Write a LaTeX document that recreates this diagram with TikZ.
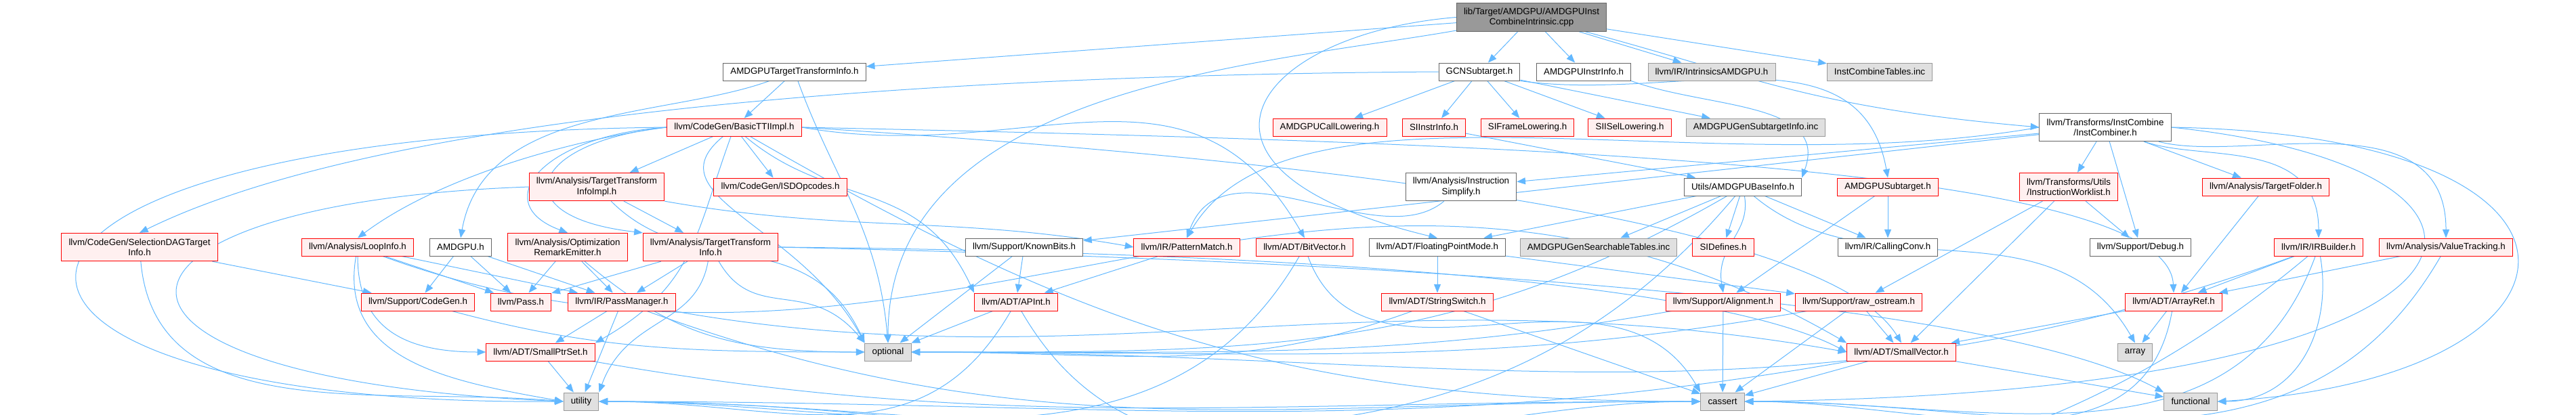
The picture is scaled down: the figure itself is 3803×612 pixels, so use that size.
\documentclass[tikz,border=0pt]{standalone}
\usepackage{fontspec}
\setmainfont{Liberation Sans}
\usetikzlibrary{arrows.meta,backgrounds}
\definecolor{depline}{HTML}{63B8FF}
\definecolor{hdrline}{HTML}{666666}
\definecolor{truncline}{HTML}{FF0000}
\definecolor{truncfill}{HTML}{FFF0F0}
\definecolor{sysline}{HTML}{999999}
\definecolor{sysfill}{HTML}{E0E0E0}
\definecolor{rootfill}{HTML}{999999}

\begin{document}
\begin{tikzpicture}[x=0.75pt,y=0.75pt,
  hdr/.style={draw=hdrline,fill=white,line width=0.75pt,inner xsep=8pt,inner ysep=0pt,
    minimum height=19.5pt,align=center,font=\fontsize{10}{11.5}\selectfont},
  trunc/.style={hdr,draw=truncline,fill=truncfill},
  sys/.style={hdr,draw=sysline,fill=sysfill},
  rootbox/.style={hdr,fill=rootfill},
  twoline/.style={minimum height=31pt},
  dep/.style={depline,line width=0.75pt,-{Triangle[length=9.5pt,width=7.5pt]}}]
  \useasboundingbox (0,0) rectangle (3803,-612);

  % Source file
  \node[rootbox,twoline] (root) at (2261,-25.5) {lib/Target/AMDGPU/AMDGPUInst\\CombineIntrinsic.cpp};

  % First level includes
  \node[hdr] (ttiamd) at (1173,-106) {AMDGPUTargetTransformInfo.h};
  \node[hdr] (gcn) at (2184,-106) {GCNSubtarget.h};
  \node[hdr] (instrinfo) at (2338,-106) {AMDGPUInstrInfo.h};
  \node[sys] (intrin) at (2527,-106) {llvm/IR/IntrinsicsAMDGPU.h};
  \node[sys] (tables) at (2775,-106) {InstCombineTables.inc};

  \node[trunc] (basictti) at (1084,-188) {llvm/CodeGen/BasicTTIImpl.h};
  \node[trunc] (calllow) at (1963,-188) {AMDGPUCallLowering.h};
  \node[trunc] (siinstr) at (2117,-188) {SIInstrInfo.h};
  \node[trunc] (siframe) at (2255,-188) {SIFrameLowering.h};
  \node[trunc] (siisel) at (2406,-188) {SIISelLowering.h};
  \node[sys] (gensub) at (2592,-188) {AMDGPUGenSubtargetInfo.inc};
  \node[hdr,twoline] (instcomb) at (3108,-188) {llvm/Transforms/InstCombine\\/InstCombiner.h};

  \node[trunc,twoline] (ttiimpl) at (881,-276) {llvm/Analysis/TargetTransform\\InfoImpl.h};
  \node[trunc] (isd) at (1152,-276) {llvm/CodeGen/ISDOpcodes.h};
  \node[hdr,twoline] (instsimp) at (2157,-276) {llvm/Analysis/Instruction\\Simplify.h};
  \node[hdr] (baseinfo) at (2573,-276) {Utils/AMDGPUBaseInfo.h};
  \node[trunc] (amdsub) at (2787,-276) {AMDGPUSubtarget.h};
  \node[trunc,twoline] (worklist) at (3054,-276) {llvm/Transforms/Utils\\/InstructionWorklist.h};
  \node[trunc] (tfolder) at (3345,-276) {llvm/Analysis/TargetFolder.h};

  \node[trunc,twoline] (seldag) at (206,-365) {llvm/CodeGen/SelectionDAGTarget\\Info.h};
  \node[trunc] (loopinfo) at (528,-365) {llvm/Analysis/LoopInfo.h};
  \node[hdr] (amdgpu) at (680,-365) {AMDGPU.h};
  \node[trunc,twoline] (ore) at (838,-365) {llvm/Analysis/Optimization\\RemarkEmitter.h};
  \node[trunc,twoline] (tti) at (1049,-365) {llvm/Analysis/TargetTransform\\Info.h};
  \node[hdr] (knownbits) at (1512,-365) {llvm/Support/KnownBits.h};
  \node[trunc] (patmatch) at (1752,-365) {llvm/IR/PatternMatch.h};
  \node[trunc] (bitvec) at (1926,-365) {llvm/ADT/BitVector.h};
  \node[hdr] (fpmode) at (2122,-365) {llvm/ADT/FloatingPointMode.h};
  \node[sys] (searchtab) at (2360,-365) {AMDGPUGenSearchableTables.inc};
  \node[trunc] (sidef) at (2544,-365) {SIDefines.h};
  \node[hdr] (callconv) at (2787,-365) {llvm/IR/CallingConv.h};
  \node[hdr] (debug) at (3160,-365) {llvm/Support/Debug.h};
  \node[trunc] (irbuilder) at (3423,-365) {llvm/IR/IRBuilder.h};
  \node[trunc] (valtrack) at (3611,-365) {llvm/Analysis/ValueTracking.h};

  \node[trunc] (cgen) at (617,-446) {llvm/Support/CodeGen.h};
  \node[trunc] (pass) at (769,-446) {llvm/Pass.h};
  \node[trunc] (passmgr) at (918,-446) {llvm/IR/PassManager.h};
  \node[trunc] (apint) at (1500,-446) {llvm/ADT/APInt.h};
  \node[trunc] (strswitch) at (2122,-446) {llvm/ADT/StringSwitch.h};
  \node[trunc] (align) at (2544,-446) {llvm/Support/Alignment.h};
  \node[trunc] (rawos) at (2744,-446) {llvm/Support/raw\_ostream.h};
  \node[trunc] (arrayref) at (3209,-446) {llvm/ADT/ArrayRef.h};

  \node[trunc] (smallptr) at (798,-520) {llvm/ADT/SmallPtrSet.h};
  \node[sys] (optional) at (1311,-520) {optional};
  \node[trunc] (smallvec) at (2807,-520) {llvm/ADT/SmallVector.h};
  \node[sys] (array) at (3152,-520) {array};

  % Standard headers
  \node[sys] (utility) at (858,-593) {utility};
  \node[sys] (cassert) at (2543,-593) {cassert};
  \node[sys] (functional) at (3234,-593) {functional};

  \begin{scope}[on background layer]
    % Short include edges
    \foreach \a/\b in {root/ttiamd, root/gcn, root/instrinfo, root/intrin, root/tables,
        ttiamd/basictti, gcn/calllow, gcn/siinstr, gcn/siframe, gcn/siisel, gcn/gensub,
        siinstr/baseinfo, basictti/ttiimpl, basictti/isd, ttiimpl/tti,
        instcomb/worklist, instcomb/tfolder, instcomb/debug, instcomb/knownbits, instcomb/instsimp,
        knownbits/apint, patmatch/apint, fpmode/strswitch, fpmode/rawos,
        baseinfo/fpmode, baseinfo/searchtab, baseinfo/sidef, baseinfo/callconv,
        amdsub/callconv, amdsub/align, worklist/debug, worklist/rawos, worklist/smallvec,
        tfolder/arrayref, irbuilder/arrayref, valtrack/arrayref,
        seldag/cgen, loopinfo/pass, loopinfo/passmgr, amdgpu/cgen, amdgpu/pass, amdgpu/passmgr,
        ore/pass, ore/passmgr, tti/pass, tti/passmgr, passmgr/smallptr, rawos/smallvec,
        arrayref/smallvec, arrayref/array, knownbits/optional, apint/optional,
        smallptr/utility, passmgr/utility, strswitch/cassert, align/cassert, rawos/cassert,
        smallvec/cassert, smallvec/functional}
      \draw[dep] (\a) -- (\b);

    % Long include edges
    \draw[dep] (root) .. controls +(-15:340) and +(175:340) .. (instcomb.west);
    \draw[dep] (root.west) .. controls (1850,-50) and (1700,-250) .. (fpmode.north);
    \draw[dep] (root) .. controls +(190:400) and +(90:380) .. (optional.north);
    \draw[dep] (ttiamd) .. controls +(200:200) and +(80:200) .. (amdgpu.north);
    \draw[dep] (ttiamd) .. controls +(-70:170) and +(95:170) .. (optional.north);
    \draw[dep] (gcn.west) .. controls (1500,-110) and (600,-150) .. (seldag.north);
    \draw[dep] (gcn.south east) .. controls +(-8:230) and +(100:230) .. (amdsub.north);
    \draw[dep] (instrinfo.south east) .. controls +(-20:120) and +(70:120) .. (baseinfo.north east);
    \draw[dep] (basictti.west) .. controls (780,-210) and (740,-320) .. (tti.north west);
    \draw[dep] (basictti.west) .. controls (800,-200) and (720,-300) .. (ore.north);
    \draw[dep] (basictti.west) .. controls (850,-205) and (650,-260) .. (loopinfo.north);
    \draw[dep] (basictti) .. controls +(-40:190) and +(115:190) .. (apint.north west);
    \draw[dep] (basictti.east) .. controls (2200,-210) and (3200,-240) .. (arrayref.north);
    \draw[dep] (basictti.east) .. controls +(-10:340) and +(120:340) .. (bitvec.north);
    \draw[dep] (basictti) .. controls +(-110:170) and +(30:170) .. (smallptr.north east);
    \draw[dep] (basictti.east) .. controls (2000,-240) and (2700,-330) .. (smallvec.north);
    \draw[dep] (ttiimpl.south east) .. controls +(-10:270) and +(170:270) .. (patmatch.west);
    \draw[dep] (instcomb.west) .. controls +(190:500) and +(60:300) .. (patmatch.north);
    \draw[dep] (instsimp) .. controls +(-140:160) and +(70:160) .. (patmatch.north);
    \draw[dep] (instcomb) .. controls +(-20:150) and +(90:150) .. (irbuilder.north);
    \draw[dep] (instcomb) .. controls +(-15:210) and +(90:210) .. (valtrack.north);
    \draw[dep] (baseinfo) .. controls +(-80:70) and +(100:70) .. (align.north);
    \draw[dep] (baseinfo) .. controls +(-40:250) and +(120:250) .. (array.north);
    \draw[dep] (loopinfo) .. controls +(-90:120) and +(180:120) .. (smallptr.west);
    \draw[dep] (loopinfo) .. controls +(-20:900) and +(150:900) .. (smallvec.north west);
    \draw[dep] (tti.east) .. controls (1700,-370) and (2500,-400) .. (smallvec.west);
    \draw[dep] (passmgr) .. controls +(-10:700) and +(170:700) .. (smallvec.west);

    % Edges into utility
    \draw[dep] (basictti.west) .. controls (-150,-200) and (-150,-600) .. (utility.west);
    \draw[dep] (seldag) .. controls +(-85:270) and +(175:270) .. (utility.west);
    \draw[dep] (loopinfo) .. controls +(-100:170) and +(170:170) .. (utility.west);
    \draw[dep] (ttiimpl.west) .. controls (100,-300) and (60,-560) .. (utility.west);
    \draw[dep] (tti) .. controls +(-100:120) and +(70:120) .. (utility.north east);
    \draw[dep] (apint) .. controls +(-120:280) and +(0:280) .. (utility.east);
    \draw[dep] (bitvec) .. controls +(-120:420) and +(0:420) .. (utility.east);
    \draw[dep] (baseinfo) .. controls +(-130:680) and +(0:680) .. (utility.east);
    \draw[dep] (irbuilder) .. controls +(-140:1000) and +(0:1000) .. (utility.east);
    \draw[dep] (smallvec) .. controls +(-170:760) and +(0:760) .. (utility.east);

    % Edges into cassert
    \draw[dep] (basictti) .. controls +(-30:600) and +(180:600) .. (cassert.west);
    \draw[dep] (passmgr) .. controls +(-20:640) and +(180:640) .. (cassert.west);
    \draw[dep] (smallptr) .. controls +(-10:680) and +(180:680) .. (cassert.west);
    \draw[dep] (apint) .. controls +(-60:410) and +(180:410) .. (cassert.west);
    \draw[dep] (bitvec) .. controls +(-70:260) and +(120:260) .. (cassert.north west);
    \draw[dep] (arrayref) .. controls +(-100:270) and +(0:270) .. (cassert.east);
    \draw[dep] (irbuilder) .. controls +(-110:360) and +(0:360) .. (cassert.east);
    \draw[dep] (valtrack) .. controls +(-120:430) and +(0:430) .. (cassert.east);
    \draw[dep] (instcomb.east) .. controls (3800,-250) and (3750,-580) .. (cassert.east);

    % Edges into optional
    \draw[dep] (basictti) .. controls (960,-290) and (1180,-330) .. (optional.north west);
    \draw[dep] (ttiimpl) .. controls +(-45:200) and +(115:200) .. (optional.north west);
    \draw[dep] (tti) .. controls +(-60:130) and +(130:130) .. (optional.north west);
    \draw[dep] (ore) .. controls +(-40:200) and +(180:200) .. (optional.west);
    \draw[dep] (cgen) .. controls +(-15:270) and +(180:270) .. (optional.west);
    \draw[dep] (strswitch) .. controls +(-160:320) and +(0:320) .. (optional.east);
    \draw[dep] (align) .. controls +(-170:480) and +(0:480) .. (optional.east);
    \draw[dep] (rawos) .. controls +(-170:560) and +(0:560) .. (optional.east);
    \draw[dep] (baseinfo) .. controls +(-150:500) and +(0:500) .. (optional.east);
    \draw[dep] (irbuilder) .. controls +(-160:820) and +(0:820) .. (optional.east);

    % Edges into functional
    \draw[dep] (tti.east) .. controls (1800,-380) and (2900,-420) .. (functional.north west);
    \draw[dep] (irbuilder) .. controls +(-80:120) and +(0:120) .. (functional.east);
    \draw[dep] (instcomb.east) .. controls (3900,-200) and (3850,-560) .. (functional.east);
  \end{scope}
\end{tikzpicture}
\end{document}
